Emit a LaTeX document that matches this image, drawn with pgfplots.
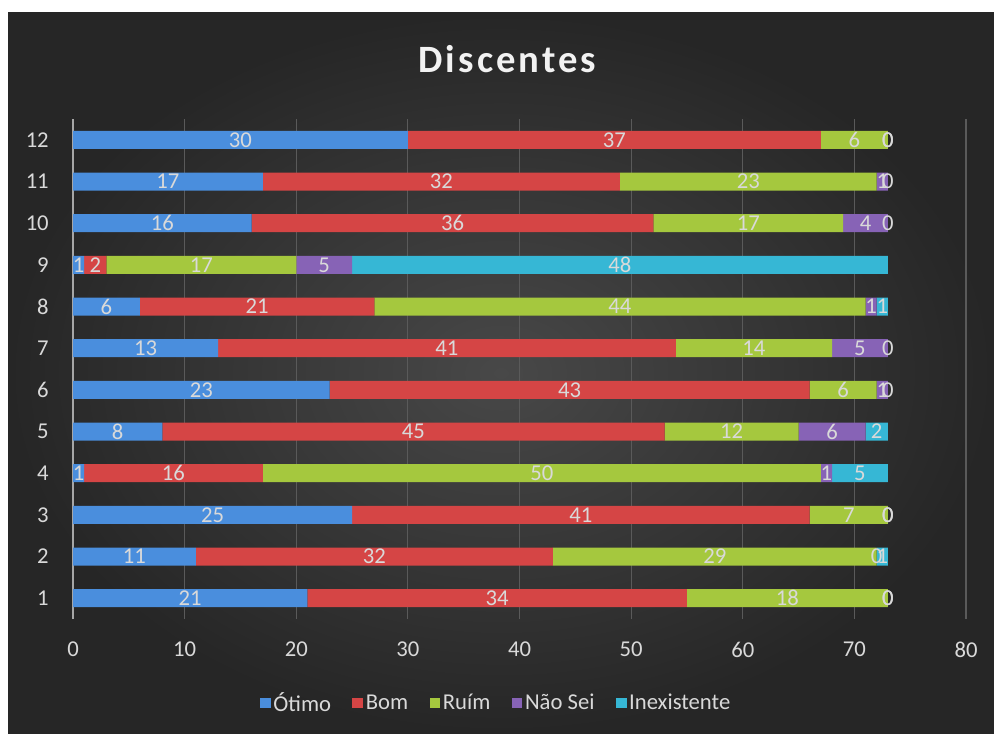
\documentclass[border=0pt]{standalone}
\usepackage{pgfplots}
\pgfplotsset{compat=1.18}
\usepackage{pgfplotstable}
\usepackage{fontspec}
\setmainfont{Carlito}
\newfontfamily\titlefont[LetterSpace=8.0]{Carlito}
\definecolor{cBlue}{HTML}{4A8EDD}
\definecolor{cRed}{HTML}{D54545}
\definecolor{cGreen}{HTML}{A5C83E}
\definecolor{cPurple}{HTML}{8763B6}
\definecolor{cCyan}{HTML}{36B7D5}
\definecolor{txt}{HTML}{D9D9D9}
\definecolor{gridc}{HTML}{5A5A5A}
\definecolor{bgin}{HTML}{484848}
\definecolor{bgout}{HTML}{262626}

\pgfplotstableread{
row Otimo Bom Ruim NaoSei Inex
1 21 34 18 0 0
2 11 32 29 0 1
3 25 41 7 0 0
4 1 16 50 1 5
5 8 45 12 6 2
6 23 43 6 1 0
7 13 41 14 5 0
8 6 21 44 1 1
9 1 2 17 5 48
10 16 36 17 4 0
11 17 32 23 1 0
12 30 37 6 0 0
}\datatable
\pgfplotstablecreatecol[create col/expr={\thisrow{Otimo}/2}]{m1}\datatable
\pgfplotstablecreatecol[create col/expr={\thisrow{Otimo}+\thisrow{Bom}/2}]{m2}\datatable
\pgfplotstablecreatecol[create col/expr={\thisrow{Otimo}+\thisrow{Bom}+\thisrow{Ruim}/2}]{m3}\datatable
\pgfplotstablecreatecol[create col/expr={\thisrow{Otimo}+\thisrow{Bom}+\thisrow{Ruim}+\thisrow{NaoSei}/2}]{m4}\datatable
\pgfplotstablecreatecol[create col/expr={\thisrow{Otimo}+\thisrow{Bom}+\thisrow{Ruim}+\thisrow{NaoSei}+\thisrow{Inex}/2}]{m5}\datatable

\pgfplotsset{
  common/.style={
    at={(54.75pt,85.5pt)}, anchor=south west,
    scale only axis, width=669.75pt, height=375pt,
    xmin=0, xmax=80, ymin=0.5, ymax=12.5,
  },
  barstyle/.style={draw=none, fill=#1},
  lbl/.style={draw=none, mark=none, nodes near coords, point meta=explicit symbolic,
    every node near coord/.append style={anchor=center, text=txt, font=\fontsize{17}{20}\selectfont}},
}

\begin{document}
\begin{tikzpicture}
\useasboundingbox (0,0) rectangle (745.5pt,549.75pt);
\fill[white] (0,0) rectangle (745.5pt,549.75pt);
\shade[inner color=bgin, outer color=bgout] (6pt,0pt) rectangle (745.5pt,540pt);
\node[anchor=base, text=white!95!black, font=\titlefont\bfseries\fontsize{29}{34}\selectfont] at (380.6pt,495pt) {Discentes};
\begin{axis}[
  common,
  xbar stacked, bar width=13.5pt,
  xtick={0,10,...,80}, ytick={1,...,12},
  xmajorgrids, major grid style={draw=gridc, line width=0.8pt},
  axis x line*=bottom, axis y line*=left,
  x axis line style={draw=none},
  y axis line style={draw=gray!70, line width=1pt},
  major tick length=0pt,
  /pgf/number format/assume math mode=true,
  tick label style={text=txt, font=\fontsize{17}{20}\selectfont},
  yticklabel style={inner sep=0pt, xshift=-18pt},
  xticklabel style={inner sep=0pt, yshift=-17pt},
  legend columns=5,
  legend style={at={(rel axis cs:0.4743,-0.168)}, anchor=center, draw=none, fill=none, text=txt, font=\fontsize{17}{20}\selectfont, /tikz/every even column/.append style={column sep=14pt}},
  legend image code/.code={\fill[#1] (0pt,-4pt) rectangle (8pt,4pt);},
]
\addplot[barstyle=cBlue] table[x=Otimo, y=row] {\datatable};
\addplot[barstyle=cRed] table[x=Bom, y=row] {\datatable};
\addplot[barstyle=cGreen] table[x=Ruim, y=row] {\datatable};
\addplot[barstyle=cPurple] table[x=NaoSei, y=row] {\datatable};
\addplot[barstyle=cCyan] table[x=Inex, y=row] {\datatable};
\legend{Ótimo, Bom, Ruím, Não Sei, Inexistente}
\end{axis}
\begin{axis}[common, hide axis]
\addplot[lbl] table[x=m1, y=row, meta=Otimo] {\datatable};
\addplot[lbl] table[x=m2, y=row, meta=Bom] {\datatable};
\addplot[lbl] table[x=m3, y=row, meta=Ruim] {\datatable};
\addplot[lbl] table[x=m4, y=row, meta=NaoSei] {\datatable};
\addplot[lbl] table[x=m5, y=row, meta=Inex] {\datatable};
\end{axis}
\end{tikzpicture}
\end{document}
